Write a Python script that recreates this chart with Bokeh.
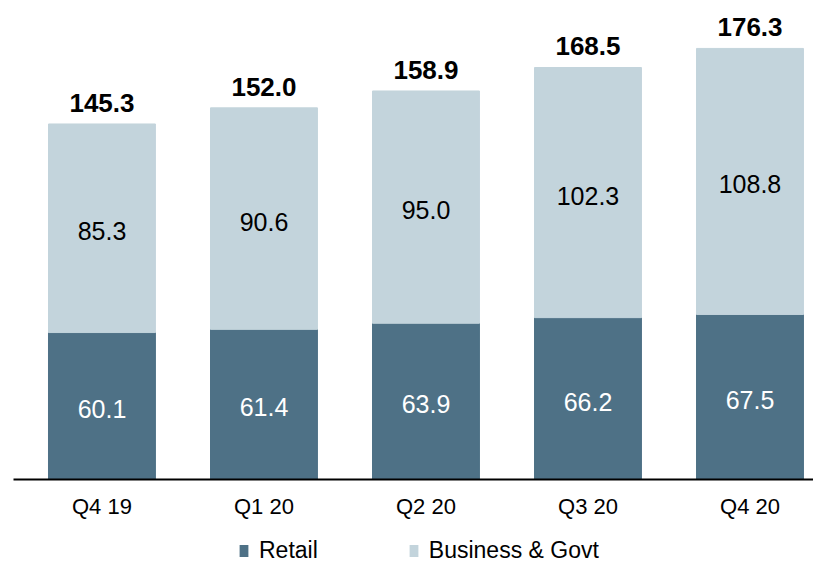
from bokeh.plotting import figure
from bokeh.layouts import column
from bokeh.models import ColumnDataSource, Range1d, FixedTicker, Legend, LegendItem
from bokeh.core.properties import value
from bokeh.embed import file_html
from bokeh.resources import INLINE

categories = ["Q4 19", "Q1 20", "Q2 20", "Q3 20", "Q4 20"]
retail = [60.1, 61.4, 63.9, 66.2, 67.5]
business = [85.3, 90.6, 95.0, 102.3, 108.8]
totals = [145.3, 152.0, 158.9, 168.5, 176.3]
series_names = ["Retail", "Business & Govt"]

DARK = "#4E7186"
LIGHT = "#C3D4DC"
FONT = "Liberation Sans"

xs = list(range(len(categories)))
src = ColumnDataSource(dict(
    x=xs,
    retail=retail,
    business=business,
    top=[r + b for r, b in zip(retail, business)],
    retail_mid=[r / 2 for r in retail],
    bus_mid=[r + b / 2 for r, b in zip(retail, business)],
    totals=totals,
    retail_lbl=[f"{v:.1f}" for v in retail],
    bus_lbl=[f"{v:.1f}" for v in business],
    tot_lbl=[f"{v:.1f}" for v in totals],
))

p = figure(width=813, height=530, output_backend="svg", toolbar_location=None,
           x_range=Range1d(-0.546, 4.392), y_range=Range1d(0, 195.9),
           min_border_left=13, min_border_right=0, min_border_top=0, min_border_bottom=51)
p.outline_line_color = None
p.grid.visible = False
p.yaxis.visible = False

p.vbar(x="x", bottom=0, top="retail", width=0.66, color=DARK, source=src)
p.vbar(x="x", bottom="retail", top="top", width=0.66, color=LIGHT, source=src)

p.text(x="x", y="retail_mid", text="retail_lbl", source=src, text_align="center",
       text_baseline="middle", text_color="white", text_font=value(FONT),
       text_font_size="25px", y_offset=3)
p.text(x="x", y="bus_mid", text="bus_lbl", source=src, text_align="center",
       text_baseline="middle", text_color="black", text_font=value(FONT),
       text_font_size="25px", y_offset=3)
p.text(x="x", y="totals", text="tot_lbl", source=src, text_align="center",
       text_baseline="bottom", text_color="black", text_font=value(FONT),
       text_font_size="26px", text_font_style="bold", y_offset=-12)

ax = p.xaxis[0]
ax.ticker = FixedTicker(ticks=xs)
ax.major_label_overrides = {i: c for i, c in enumerate(categories)}
ax.major_tick_line_color = None
ax.minor_tick_line_color = None
ax.axis_line_color = "black"
ax.axis_line_width = 2
ax.major_label_text_font = FONT
ax.major_label_text_font_size = "22px"
ax.major_label_text_color = "black"
ax.major_label_standoff = 8

# legend strip
q = figure(width=813, height=35, output_backend="svg", toolbar_location=None,
           x_range=Range1d(0, 1), y_range=Range1d(0, 1), min_border=0,
           x_axis_location=None, y_axis_location=None)
q.outline_line_color = None
q.grid.visible = False
g1 = q.vbar(x=[0.5], bottom=[0], top=[0], width=0.0, fill_color=DARK, line_color=None)
g2 = q.vbar(x=[0.5], bottom=[0], top=[0], width=0.0, fill_color=LIGHT, line_color=None)
legend = Legend(items=[LegendItem(label=series_names[0], renderers=[g1]),
                       LegendItem(label=series_names[1], renderers=[g2])],
                orientation="horizontal", location=(225, 1),
                label_text_font=FONT, label_text_font_size="23px", label_text_color="black",
                label_height=22, glyph_width=11, glyph_height=15, label_standoff=10,
                spacing=90, border_line_color=None, background_fill_alpha=0,
                padding=0, margin=0)
q.add_layout(legend)

layout = column(p, q, spacing=0)
open("out.html", "w").write(file_html(layout, INLINE))
